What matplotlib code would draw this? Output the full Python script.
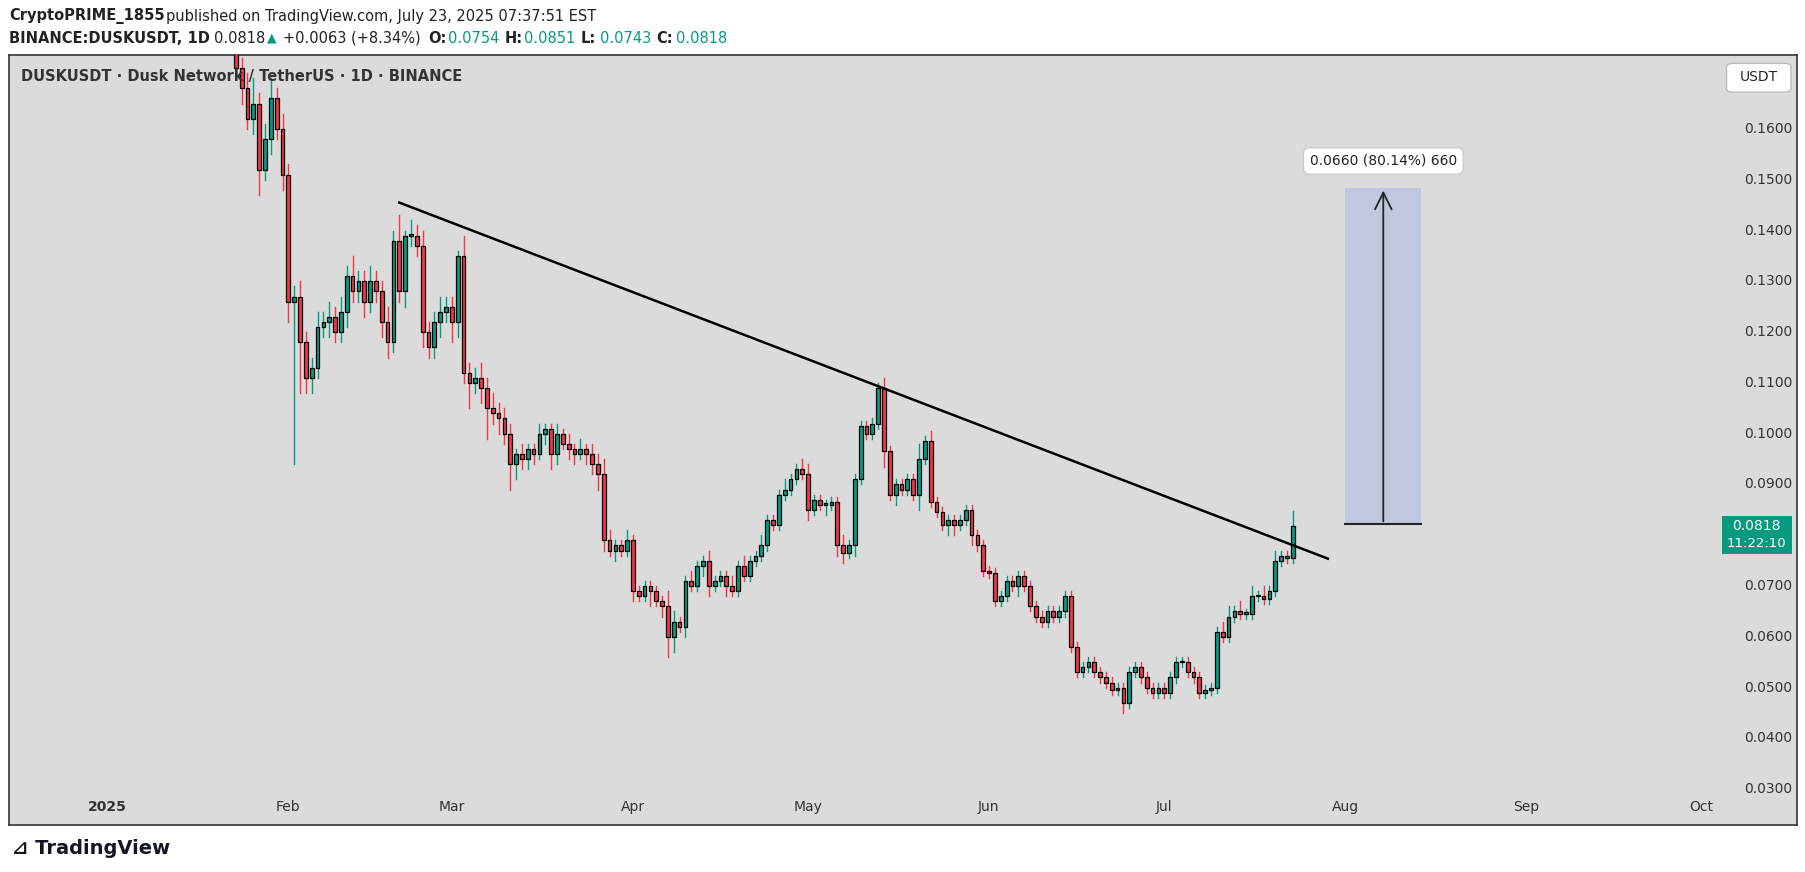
import matplotlib
matplotlib.use("Agg")
import matplotlib.pyplot as plt
import matplotlib.dates as mdates
from matplotlib.patches import Rectangle, FancyBboxPatch
import numpy as np
import datetime as dt

start = dt.date(2024, 12, 20)
closes = [
 0.19,0.185,0.20,0.205,0.21,0.20,0.195,0.20,0.21,0.205,0.20,0.21,
 0.22,0.23,0.24,0.25,0.24,0.23,0.21,0.20,0.205,0.21,0.215,0.20,0.19,0.195,0.20,0.21,0.205,0.20,0.19,0.185,
 0.18,0.178,0.172,0.168,0.162,0.165,0.152,0.158,0.166,0.160,0.151,
 0.126,0.127,0.118,0.111,0.113,0.121,0.122,0.123,0.120,0.124,0.131,0.128,0.130,0.126,0.130,0.128,0.122,0.118,0.138,0.128,0.139,0.139,0.137,0.120,0.117,0.122,0.124,0.125,
 0.122,0.135,0.112,0.110,0.111,0.109,0.105,0.104,0.103,0.100,0.094,0.096,0.095,0.097,0.096,0.100,0.101,0.096,0.100,0.098,0.097,0.096,0.097,0.096,0.094,0.092,0.079,0.077,0.078,0.077,0.079,
 0.069,0.068,0.070,0.069,0.067,0.066,0.060,0.063,0.062,0.071,0.070,0.074,0.075,0.070,0.071,0.072,0.070,0.069,0.074,0.072,0.075,0.076,0.078,0.083,0.082,0.088,0.089,0.091,0.093,0.092,
 0.085,0.087,0.086,0.086,0.0865,0.078,0.0765,0.078,0.091,0.1015,0.100,0.102,0.109,0.0965,0.088,0.090,0.089,0.091,0.088,0.095,0.0985,0.0865,0.0845,0.082,0.083,0.082,0.083,0.085,0.080,0.078,0.073,
 0.0725,0.067,0.068,0.071,0.070,0.072,0.070,0.066,0.064,0.063,0.065,0.064,0.065,0.068,0.058,0.053,0.054,0.055,0.053,0.052,0.051,0.0495,0.050,0.047,0.053,0.054,0.052,0.050,0.049,0.050,
 0.049,0.052,0.055,0.055,0.053,0.052,0.049,0.0495,0.050,0.061,0.060,0.064,0.065,0.0645,0.0645,0.068,0.068,0.0675,0.069,0.075,0.076,0.0755,0.0818]
# wick extensions in thousandths (upper, lower)
wick_up = [3,2,4,2,3,2,2,3,2,2,3,2, 3,2,4,3,2,2,3,2,2,3,2,2,3,2,3,2,2,2,3,2, 3,2,4,2,3,5,2,3,4,2,3,
 2,2,3,2,2,3,2,3,2,3,2,4,2,2,3,2,2,3,2,5,1,3,2,3,2,2,3,2,
 2,1,4,2,2,3,2,3,2,2,2,1,2,1,1,2,1,1,2,1,2,1,2,1,2,2,3,2,1,1,2,
 1,1,1,1,1,1,3,2,1,1,2,1,1,2,1,1,1,2,1,2,1,1,2,1,1,1,2,1,1,2,
 2,1,1,1,1,1,2,1,1,1,1,1,1,2,1,1,1,1,1,3,1,2,1,1,1,1,1,1,1,1,1,
 1,1,1,1,1,1,1,1,1,1,1,1,1,1,1,1,1,1,1,1,1,1,1,1,1,1,1,1,1,1,
 1,1,1,1,1,1,1,1,1,1,2,2,1,2,1,2,1,2,1,2,1,1,3]
wick_dn = [2,3,2,3,2,2,3,2,2,3,2,2, 2,3,2,2,3,2,2,3,2,2,3,2,2,3,2,2,3,2,2,3, 2,3,2,3,2,3,5,2,3,2,3,
 4,32,10,3,3,2,2,3,2,2,3,2,2,3,2,2,3,3,2,2,3,2,2,3,2,2,3,2,
 4,3,2,5,2,3,6,2,3,2,5,3,2,2,2,1,2,3,2,1,2,2,1,2,2,3,2,1,2,1,1,
 2,1,1,3,1,2,4,3,1,2,1,1,2,2,1,1,2,1,1,1,1,1,1,1,1,1,1,1,1,1,
 2,1,1,2,1,2,2,1,2,1,1,1,1,3,1,2,1,1,1,3,1,1,1,1,2,2,1,1,2,1,1,
 1,1,1,1,1,2,1,1,1,1,1,1,1,1,1,1,1,1,1,1,1,1,1,2,1,1,1,1,1,1,
 1,1,1,1,1,1,1,1,1,1,1,1,1,1,1,1,1,1,1,1,1,1,1]
trend_x = [dt.date(2025,2,20), dt.date(2025,7,29)]
trend_y = [0.1455, 0.0754]
measure_x = [dt.date(2025,8,1), dt.date(2025,8,14)]
measure_y = [0.0822, 0.1484]
yticks = [0.03,0.04,0.05,0.06,0.07,0.09,0.10,0.11,0.12,0.13,0.14,0.15,0.16]
xticks = [(dt.date(2025,1,1),"2025"),(dt.date(2025,2,1),"Feb"),(dt.date(2025,3,1),"Mar"),(dt.date(2025,4,1),"Apr"),
          (dt.date(2025,5,1),"May"),(dt.date(2025,6,1),"Jun"),(dt.date(2025,7,1),"Jul"),(dt.date(2025,8,1),"Aug"),
          (dt.date(2025,9,1),"Sep"),(dt.date(2025,10,1),"Oct")]

UP, DN, BG = "#089981", "#f23645", "#dbdbdb"
fig = plt.figure(figsize=(18.06, 8.72), dpi=100)
W, H = 1568, 757
def fx(x): return x / W
def fy(y): return 1 - y / H

frame = fig.add_axes([fx(8), fy(716), fx(1560)-fx(8), fy(48)-fy(716)])
frame.set_facecolor(BG); frame.set_xticks([]); frame.set_yticks([])
for s in frame.spines.values(): s.set_color("#333333"); s.set_linewidth(1.2)

ax = fig.add_axes([fx(8), fy(690), fx(1490)-fx(8), fy(48)-fy(690)])
ax.patch.set_alpha(0)
for s in ax.spines.values(): s.set_visible(False)
d0 = mdates.date2num(start)
n = len(closes)
xs = d0 + np.arange(n)
opens = [closes[0]] + closes[:-1]
for i in range(n):
    o, c = opens[i], closes[i]
    hi = max(o, c) + wick_up[i] / 1000.0
    lo = min(o, c) - wick_dn[i] / 1000.0
    col = UP if c >= o else DN
    ax.plot([xs[i], xs[i]], [lo, hi], color=col, lw=1, zorder=2)
    ax.add_patch(Rectangle((xs[i]-0.32, min(o, c)), 0.64, max(abs(c-o), 0.0003),
                           facecolor=col, edgecolor="black", lw=0.9, zorder=3))
ax.plot([mdates.date2num(d) for d in trend_x], trend_y, color="black", lw=1.8, zorder=4)
mx = [mdates.date2num(d) for d in measure_x]
ax.add_patch(Rectangle((mx[0], measure_y[0]), mx[1]-mx[0], measure_y[1]-measure_y[0],
                       facecolor="#c0c8e0", edgecolor="none", zorder=1))
ax.plot(mx, [measure_y[0]]*2, color="#222222", lw=1.5, zorder=4)
mc = (mx[0]+mx[1])/2
ax.annotate("", xy=(mc, measure_y[1]), xytext=(mc, measure_y[0]),
            arrowprops=dict(arrowstyle="->", color="#222222", lw=1.3, mutation_scale=30), zorder=4)
ax.text(mc, 0.1537, "0.0660 (80.14%) 660", ha="center", va="center", fontsize=10, color="#222222",
        bbox=dict(boxstyle="round,pad=0.45", fc="white", ec="#cccccc"), zorder=5)
ax.set_xlim(mdates.date2num(dt.date(2024,12,15)) + 0.2, mdates.date2num(dt.date(2025,10,3)) + 0.5)
ax.set_ylim(0.0289, 0.1745)
ax.set_xticks([]); ax.set_yticks([])

for v in yticks:
    yy = 112 + (0.16 - v) / 0.01 * 44.08
    fig.text(fx(1514), fy(yy), f"{v:.4f}", ha="left", va="center", fontsize=10, color="#333333")
for d, lab in xticks:
    xp = 93 + (d - dt.date(2025,1,1)).days * 5.07
    fig.text(fx(xp), fy(701), lab, ha="center", va="center", fontsize=10, color="#333333",
             fontweight="bold" if lab == "2025" else "normal")

fig.patches.append(Rectangle((fx(1495), fy(481)), fx(61), 33/H, transform=fig.transFigure, facecolor=UP, edgecolor="none"))
fig.text(fx(1525), fy(457), "0.0818", color="white", fontsize=10, va="center", ha="center")
fig.text(fx(1525), fy(472), "11:22:10", color="white", fontsize=9.5, va="center", ha="center")
fig.patches.append(FancyBboxPatch((fx(1499), fy(80)), fx(56), 25/H, boxstyle="round,pad=0,rounding_size=0.004",
                                  transform=fig.transFigure, facecolor="white", edgecolor="#bbbbbb"))
fig.text(fx(1527), fy(67), "USDT", ha="center", va="center", fontsize=10, color="#222222")

fig.text(fx(18), fy(66), "DUSKUSDT · Dusk Network / TetherUS · 1D · BINANCE", fontsize=10.5, fontweight="bold", color="#333333", va="center")
fig.text(fx(8), fy(14), "CryptoPRIME_1855", fontsize=10.5, fontweight="bold", color="#222222", va="center")
fig.text(fx(144), fy(14), "published on TradingView.com, July 23, 2025 07:37:51 EST", fontsize=10.5, color="#222222", va="center")
fig.text(fx(8), fy(33), "BINANCE:DUSKUSDT, 1D", fontsize=10.5, fontweight="bold", color="#222222", va="center")
fig.text(fx(186), fy(33), "0.0818", fontsize=10.5, color="#222222", va="center")
fig.text(fx(232), fy(33), "▲", fontsize=9, color=UP, va="center")
fig.text(fx(246), fy(33), "+0.0063 (+8.34%)", fontsize=10.5, color="#222222", va="center")
x0 = 372
for lab, val in [("O:", "0.0754"), ("H:", "0.0851"), ("L:", "0.0743"), ("C:", "0.0818")]:
    fig.text(fx(x0), fy(33), lab, fontsize=10.5, fontweight="bold", color="#222222", va="center")
    fig.text(fx(x0+17), fy(33), val, fontsize=10.5, color=UP, va="center")
    x0 += 66
fig.text(fx(10), fy(737), "⊿ TradingView", fontsize=14, fontweight="bold", color="#131722", va="center")
fig.savefig("out.png", dpi=100)
